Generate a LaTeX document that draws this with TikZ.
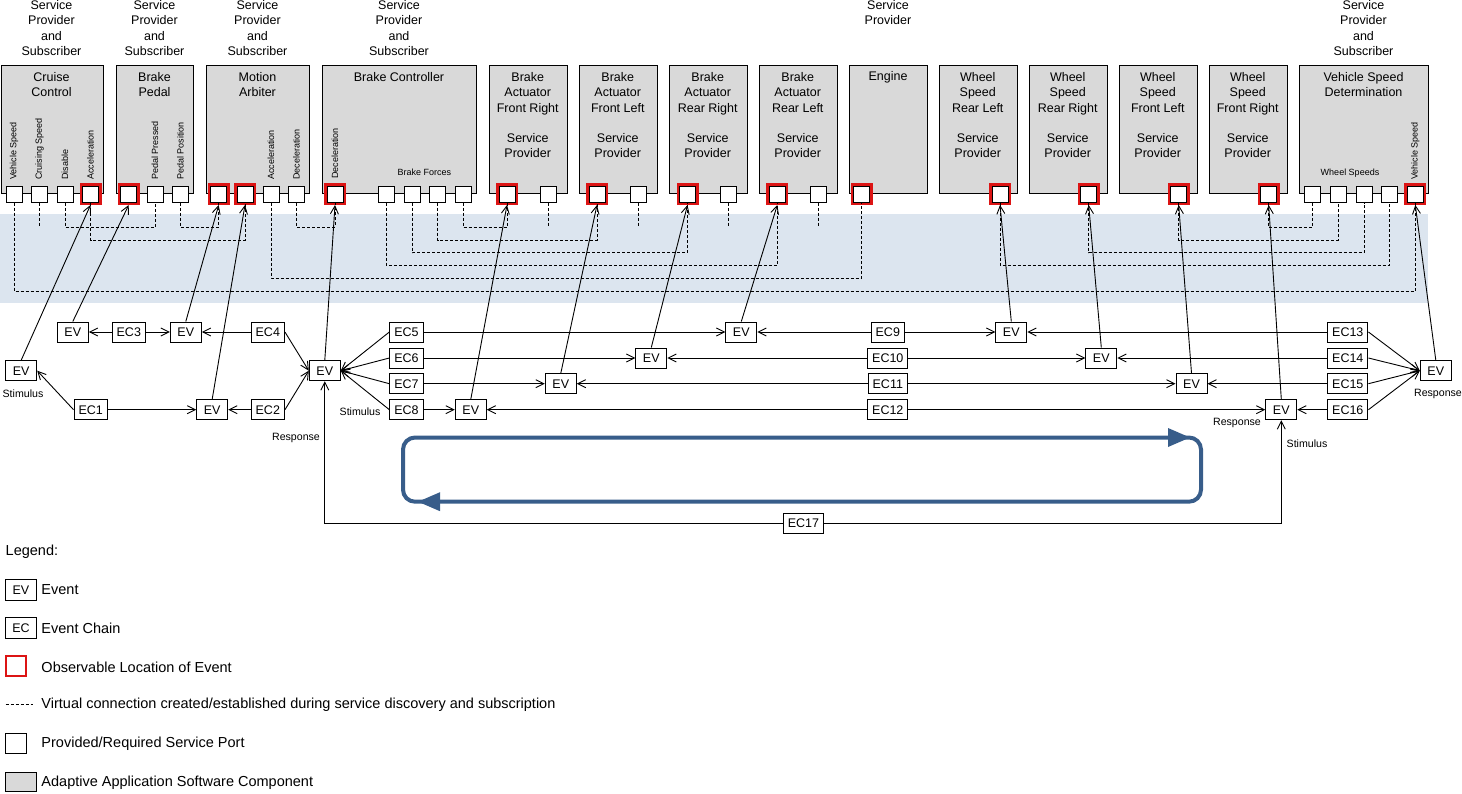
\documentclass[tikz,border=0pt]{standalone}
\usepackage{fontspec}
\setmainfont{Liberation Sans}
\usetikzlibrary{arrows.meta}
\definecolor{compgray}{RGB}{217,217,217}
\definecolor{bandblue}{RGB}{220,229,239}
\definecolor{obsred}{RGB}{220,20,20}
\definecolor{loopblue}{RGB}{56,93,138}
\begin{document}
\begin{tikzpicture}[x=1pt,y=-1pt,
  mainfont/.style={font=\fontsize{12.5}{15.3}\selectfont},
  comp/.style={draw, fill=compgray, line width=1pt, anchor=north west, inner sep=0pt, minimum height=128pt},
  ctext/.style={mainfont, align=center, inner sep=0pt},
  port/.style={draw, fill=white, line width=1pt, minimum size=16pt, inner sep=0pt},
  obs/.style={draw=obsred, fill=white, line width=2.5pt, minimum size=19.5pt, inner sep=0pt},
  plabel/.style={font=\fontsize{9}{10}\selectfont, rotate=90, anchor=west, inner sep=0pt},
  slabel/.style={font=\fontsize{9}{10}\selectfont, inner sep=0pt},
  vdash/.style={dash pattern=on 3pt off 2pt, line width=0.8pt},
  arr/.style={-{Straight Barb[length=8pt,width=8pt]}, line width=0.9pt},
  ev/.style={draw, fill=white, mainfont, line width=1pt, minimum width=31pt, minimum height=20pt, inner xsep=4.5pt, inner ysep=0pt},
  tag/.style={font=\fontsize{10.6}{12}\selectfont, inner sep=0pt},
  loopline/.style={draw=loopblue, line width=4pt, rounded corners=12pt},
  legtext/.style={font=\fontsize{14.5}{17}\selectfont, anchor=west, inner sep=0pt},
]
\useasboundingbox (0,0) rectangle (1462,793);
\fill[bandblue] (0,213.5) rectangle (1428,303);

% components
\node[comp, minimum width=102.5pt] (cc) at (0.5,65) {};
\node[comp, minimum width=77pt] (bp) at (116,65) {};
\node[comp, minimum width=103pt] (ma) at (206,65) {};
\node[comp, minimum width=154pt] (bc) at (322,65) {};
\node[comp, minimum width=77.5pt] (afr) at (489,65) {};
\node[comp, minimum width=77.5pt] (afl) at (579,65) {};
\node[comp, minimum width=77.5pt] (arr) at (669,65) {};
\node[comp, minimum width=77.5pt] (arl) at (759,65) {};
\node[comp, minimum width=77.5pt] (eng) at (849,65) {};
\node[comp, minimum width=77.5pt] (wrl) at (939,65) {};
\node[comp, minimum width=77.5pt] (wrr) at (1029,65) {};
\node[comp, minimum width=77.5pt] (wfl) at (1119,65) {};
\node[comp, minimum width=77.5pt] (wfr) at (1209,65) {};
\node[comp, minimum width=129pt] (vsd) at (1299,65) {};

% role labels
\node[ctext] (t1) at (51.5,28) {Service\\Provider\\and\\Subscriber};
\node[ctext] (t2) at (154.5,28) {Service\\Provider\\and\\Subscriber};
\node[ctext] (t3) at (257.5,28) {Service\\Provider\\and\\Subscriber};
\node[ctext] (t4) at (399,28) {Service\\Provider\\and\\Subscriber};
\node[ctext] (t5) at (888,12.7) {Service\\Provider};
\node[ctext] (t6) at (1363.5,28) {Service\\Provider\\and\\Subscriber};

% component names
\node[ctext] (n1) at (51.5,84.7) {Cruise\\Control};
\node[ctext] (n2) at (154.5,84.7) {Brake\\Pedal};
\node[ctext] (n3) at (257.5,84.7) {Motion\\Arbiter};
\node[ctext] (n4) at (399,77) {Brake Controller};
\node[ctext] (n5) at (527.75,115.2) {Brake\\Actuator\\Front Right\\[15.3pt]Service\\Provider};
\node[ctext] (n6) at (617.75,115.2) {Brake\\Actuator\\Front Left\\[15.3pt]Service\\Provider};
\node[ctext] (n7) at (707.75,115.2) {Brake\\Actuator\\Rear Right\\[15.3pt]Service\\Provider};
\node[ctext] (n8) at (797.75,115.2) {Brake\\Actuator\\Rear Left\\[15.3pt]Service\\Provider};
\node[ctext] (n9) at (888,77) {Engine};
\node[ctext] (n10) at (977.75,115.2) {Wheel\\Speed\\Rear Left\\[15.3pt]Service\\Provider};
\node[ctext] (n11) at (1067.75,115.2) {Wheel\\Speed\\Rear Right\\[15.3pt]Service\\Provider};
\node[ctext] (n12) at (1157.75,115.2) {Wheel\\Speed\\Front Left\\[15.3pt]Service\\Provider};
\node[ctext] (n13) at (1247.75,115.2) {Wheel\\Speed\\Front Right\\[15.3pt]Service\\Provider};
\node[ctext] (n14) at (1363.5,84.7) {Vehicle Speed\\Determination};

% port labels
\node[plabel] (l1) at (14,180) {Vehicle Speed};
\node[plabel] (l2) at (39.5,180) {Cruising Speed};
\node[plabel] (l3) at (65,180) {Disable};
\node[plabel] (l4) at (90.5,180) {Acceleration};
\node[plabel] (l5) at (155,180) {Pedal Pressed};
\node[plabel] (l6) at (180.3,180) {Pedal Position};
\node[plabel] (l7) at (271,180) {Acceleration};
\node[plabel] (l8) at (296.5,180) {Deceleration};
\node[plabel] (l9) at (335,179) {Deceleration};
\node[slabel] (l10) at (424.3,172.7) {Brake Forces};
\node[slabel] (l11) at (1350,172.7) {Wheel Speeds};
\node[plabel] (l12) at (1415.3,180) {Vehicle Speed};

% ports
\node[port] (cc1) at (14,194) {};
\node[port] (cc2) at (39.5,194) {};
\node[port] (cc3) at (65,194) {};
\node[obs] (cc4r) at (90.5,194) {}; \node[port] (cc4) at (90.5,194) {};
\node[obs] (bp1r) at (128.7,194) {}; \node[port] (bp1) at (128.7,194) {};
\node[port] (bp2) at (155,194) {};
\node[port] (bp3) at (180.3,194) {};
\node[obs] (ma1r) at (218.7,194) {}; \node[port] (ma1) at (218.7,194) {};
\node[obs] (ma2r) at (245,194) {}; \node[port] (ma2) at (245,194) {};
\node[port] (ma3) at (271,194) {};
\node[port] (ma4) at (296.5,194) {};
\node[obs] (bc1r) at (335,194) {}; \node[port] (bc1) at (335,194) {};
\node[port] (bc2) at (386.3,194) {};
\node[port] (bc3) at (412,194) {};
\node[port] (bc4) at (437.7,194) {};
\node[port] (bc5) at (463,194) {};
\node[obs] (fr1r) at (507,194) {}; \node[port] (fr1) at (507,194) {};
\node[port] (fr2) at (548.7,194) {};
\node[obs] (fl1r) at (597,194) {}; \node[port] (fl1) at (597,194) {};
\node[port] (fl2) at (638.7,194) {};
\node[obs] (rr1r) at (687.5,194) {}; \node[port] (rr1) at (687.5,194) {};
\node[port] (rr2) at (728.7,194) {};
\node[obs] (rl1r) at (777.3,194) {}; \node[port] (rl1) at (777.3,194) {};
\node[port] (rl2) at (818.7,194) {};
\node[obs] (eng1r) at (861.7,194) {}; \node[port] (eng1) at (861.7,194) {};
\node[obs] (wrl1r) at (1000,194) {}; \node[port] (wrl1) at (1000,194) {};
\node[obs] (wrr1r) at (1088.7,194) {}; \node[port] (wrr1) at (1088.7,194) {};
\node[obs] (wfl1r) at (1178.7,194) {}; \node[port] (wfl1) at (1178.7,194) {};
\node[obs] (wfr1r) at (1268.7,194) {}; \node[port] (wfr1) at (1268.7,194) {};
\node[port] (vs1) at (1312.7,194) {};
\node[port] (vs2) at (1338.2,194) {};
\node[port] (vs3) at (1364,194) {};
\node[port] (vs4) at (1389.5,194) {};
\node[obs] (vs5r) at (1415.3,194) {}; \node[port] (vs5) at (1415.3,194) {};

% virtual connections
\coordinate (Ya) at (0,227);
\coordinate (Yb) at (0,240);
\coordinate (Yc) at (0,252.5);
\coordinate (Yd) at (0,265);
\coordinate (Ye) at (0,278);
\coordinate (Yf) at (0,291);
\draw[vdash] (cc1.south) -- (cc1.south |- Yf) -| (vs5.south);
\draw[vdash] (cc2.south) -- (cc2.south |- Ya);
\draw[vdash] (cc3.south) -- (cc3.south |- Ya) -| (bp2.south);
\draw[vdash] (cc4.south) -- (cc4.south |- Yb) -| (ma2.south);
\draw[vdash] (bp3.south) -- (bp3.south |- Ya) -| (ma1.south);
\draw[vdash] (ma3.south) -- (ma3.south |- Ye) -| (eng1.south);
\draw[vdash] (ma4.south) -- (ma4.south |- Ya) -| (bc1.south);
\draw[vdash] (bc2.south) -- (bc2.south |- Yd) -| (rl1.south);
\draw[vdash] (bc3.south) -- (bc3.south |- Yc) -| (rr1.south);
\draw[vdash] (bc4.south) -- (bc4.south |- Yb) -| (fl1.south);
\draw[vdash] (bc5.south) -- (bc5.south |- Ya) -| (fr1.south);
\draw[vdash] (fr2.south) -- (fr2.south |- Ya);
\draw[vdash] (fl2.south) -- (fl2.south |- Ya);
\draw[vdash] (rr2.south) -- (rr2.south |- Ya);
\draw[vdash] (rl2.south) -- (rl2.south |- Ya);
\draw[vdash] (wrl1.south) -- (wrl1.south |- Yd) -| (vs4.south);
\draw[vdash] (wrr1.south) -- (wrr1.south |- Yc) -| (vs3.south);
\draw[vdash] (wfl1.south) -- (wfl1.south |- Yb) -| (vs2.south);
\draw[vdash] (wfr1.south) -- (wfr1.south |- Ya) -| (vs1.south);

% events and event chains
\node[ev] (evs) at (21.2,370.7) {EV};
\node[ev] (eva) at (72.8,332) {EV};
\node[ev] (ec3) at (128.8,332) {EC3};
\node[ev] (evb) at (185.8,332) {EV};
\node[ev] (ec4) at (267.8,332) {EC4};
\node[ev] (ec1) at (90.7,409.7) {EC1};
\node[ev] (evc) at (212.2,409.7) {EV};
\node[ev] (ec2) at (267.8,409.7) {EC2};
\node[ev] (evx) at (324.8,370.7) {EV};
\node[ev] (ec5) at (406.5,332) {EC5};
\node[ev] (ec6) at (406.5,358) {EC6};
\node[ev] (ec7) at (406.5,383.7) {EC7};
\node[ev] (ec8) at (406.5,409.7) {EC8};
\node[ev] (ev5) at (741.3,332) {EV};
\node[ev] (ev6) at (651.3,358) {EV};
\node[ev] (ev7) at (560.8,383.7) {EV};
\node[ev] (ev8) at (470.8,409.7) {EV};
\node[ev] (ec9) at (887.8,332) {EC9};
\node[ev] (ec10) at (887.8,358) {EC10};
\node[ev] (ec11) at (887.8,383.7) {EC11};
\node[ev] (ec12) at (887.8,409.7) {EC12};
\node[ev] (ev9) at (1011.3,332) {EV};
\node[ev] (ev10) at (1101.3,358) {EV};
\node[ev] (ev11) at (1191.5,383.7) {EV};
\node[ev] (ev12) at (1281.3,409.7) {EV};
\node[ev] (ec13) at (1347.8,332) {EC13};
\node[ev] (ec14) at (1347.8,358) {EC14};
\node[ev] (ec15) at (1347.8,383.7) {EC15};
\node[ev] (ec16) at (1347.8,409.7) {EC16};
\node[ev] (evr) at (1435.8,370.7) {EV};
\node[ev] (ec17) at (803.5,523.5) {EC17};

% tags
\node[tag] (s1) at (23,393.5) {Stimulus};
\node[tag] (s2) at (360,411.7) {Stimulus};
\node[tag] (r1) at (296,438) {Response};
\node[tag] (r2) at (1237,423.3) {Response};
\node[tag] (s3) at (1307,443.3) {Stimulus};
\node[tag] (r3) at (1438,394) {Response};

% event to port
\draw[arr] (evs.north) -- (cc4r.south);
\draw[arr] (eva.north) -- (bp1r.south);
\draw[arr] (evb.north) -- (ma1r.south);
\draw[arr] (evc.north) -- (ma2r.south);
\draw[arr] (evx.north) -- (bc1r.south);
\draw[arr] (ev8.north) -- (fr1r.south);
\draw[arr] (ev7.north) -- (fl1r.south);
\draw[arr] (ev6.north) -- (rr1r.south);
\draw[arr] (ev5.north) -- (rl1r.south);
\draw[arr] (ev9.north) -- (wrl1r.south);
\draw[arr] (ev10.north) -- (wrr1r.south);
\draw[arr] (ev11.north) -- (wfl1r.south);
\draw[arr] (ev12.north) -- (wfr1r.south);
\draw[arr] (evr.north) -- (vs5r.south);

% chains
\draw[arr] (ec3) -- (eva);
\draw[arr] (ec3) -- (evb);
\draw[arr] (ec4) -- (evb);
\draw[arr] (ec4.east) -- (evx.west);
\draw[arr] (ec2.east) -- (evx.west);
\draw[arr] (ec1.west) -- (evs.east);
\draw[arr] (ec1) -- (evc);
\draw[arr] (ec2) -- (evc);
\draw[arr] (ec5.west) -- (evx.east);
\draw[arr] (ec6.west) -- (evx.east);
\draw[arr] (ec7.west) -- (evx.east);
\draw[arr] (ec8.west) -- (evx.east);
\draw[arr] (ec5) -- (ev5);
\draw[arr] (ec6) -- (ev6);
\draw[arr] (ec7) -- (ev7);
\draw[arr] (ec8) -- (ev8);
\draw[arr] (ec9) -- (ev5);
\draw[arr] (ec9) -- (ev9);
\draw[arr] (ec10) -- (ev6);
\draw[arr] (ec10) -- (ev10);
\draw[arr] (ec11) -- (ev7);
\draw[arr] (ec11) -- (ev11);
\draw[arr] (ec12) -- (ev8);
\draw[arr] (ec12) -- (ev12);
\draw[arr] (ec13) -- (ev9);
\draw[arr] (ec14) -- (ev10);
\draw[arr] (ec15) -- (ev11);
\draw[arr] (ec16) -- (ev12);
\draw[arr] (ec13.east) -- (evr.west);
\draw[arr] (ec14.east) -- (evr.west);
\draw[arr] (ec15.east) -- (evr.west);
\draw[arr] (ec16.east) -- (evr.west);
\draw[arr] (ec17.west) -| (evx.south);
\draw[arr] (ec17.east) -| (ev12.south);

% loop
\draw[loopline] (403,437.5) rectangle (1201,501.7);
\fill[loopblue] (1190,437.5) -- (1168,428) -- (1168,447) -- cycle;
\fill[loopblue] (418,501.7) -- (440,492.2) -- (440,511.2) -- cycle;

% legend
\node[legtext] (lg) at (5.5,551.7) {Legend:};
\node[ev, minimum width=31pt, minimum height=20.5pt, inner xsep=2pt] (lev) at (21,590) {EV};
\node[legtext] (lt1) at (41.3,590) {Event};
\node[ev, minimum width=31pt, minimum height=20.5pt, inner xsep=2pt] (lec) at (21,628) {EC};
\node[legtext] (lt2) at (41.3,628) {Event Chain};
\node[draw=obsred, line width=2pt, minimum width=20pt, minimum height=20pt, inner sep=0pt] (lob) at (15.7,666.2) {};
\node[legtext] (lt3) at (41.3,667) {Observable Location of Event};
\draw[vdash] (5.7,704.3) -- (32.5,704.3);
\node[legtext] (lt4) at (41.3,704.3) {Virtual connection created/established during service discovery and subscription};
\node[draw, line width=1pt, minimum width=21pt, minimum height=20pt, inner sep=0pt] (lpt) at (15.7,743.8) {};
\node[legtext] (lt5) at (41.3,743.8) {Provided/Required Service Port};
\node[draw, fill=compgray, line width=1pt, minimum width=31.5pt, minimum height=19pt, inner sep=0pt] (lgr) at (20.9,782.3) {};
\node[legtext] (lt6) at (41.3,782.3) {Adaptive Application Software Component};
\end{tikzpicture}
\end{document}
